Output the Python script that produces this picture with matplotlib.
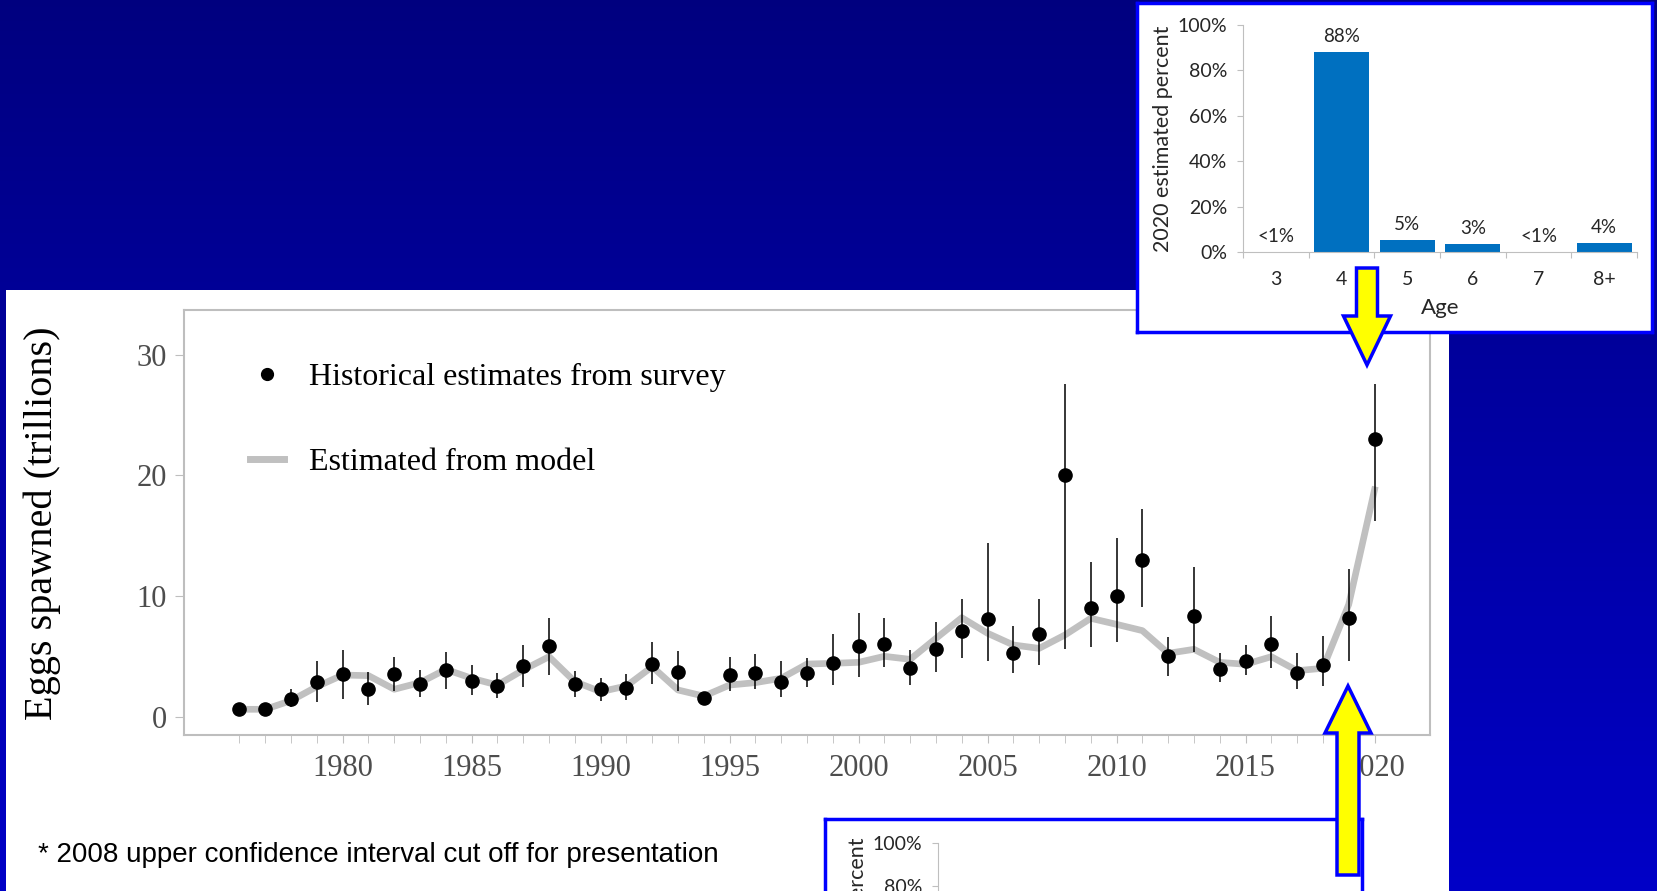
import numpy as np
import matplotlib
matplotlib.use('Agg')
import matplotlib.pyplot as plt
from matplotlib.patches import Rectangle, FancyArrow
from matplotlib.lines import Line2D

# survey egg estimates (trillions) with confidence limits, and model fit
years = np.arange(1976, 2021)
est = np.array([0.66, 0.61, 1.49, 2.90, 3.51, 2.32, 3.51, 2.73, 3.87, 2.98,
                2.57, 4.20, 5.86, 2.73, 2.27, 2.38, 4.34, 3.73, 1.57, 3.45,
                3.59, 2.87, 3.59, 4.48, 5.86, 5.99, 4.06, 5.58, 7.13, 8.12,
                5.25, 6.85, 20.0, 8.98, 9.97, 12.98, 5.00, 8.37, 3.92, 4.59,
                5.99, 3.59, 4.28, 8.20, 22.98])
lo = np.array([0.50, 0.50, 0.80, 1.24, 1.46, 0.99, 2.13, 1.60, 2.27, 1.80,
               1.52, 2.49, 3.45, 1.60, 1.33, 1.41, 2.73, 2.15, 1.35, 2.13,
               2.32, 1.60, 2.49, 2.65, 3.31, 4.14, 2.60, 3.73, 4.89, 4.59,
               3.59, 4.28, 5.58, 5.75, 6.22, 9.06, 3.40, 5.39, 2.87, 3.48,
               4.01, 2.27, 2.54, 4.59, 16.24])
hi = np.array([0.80, 0.75, 2.29, 4.61, 5.52, 3.67, 4.97, 3.84, 5.36, 4.25,
               3.65, 5.91, 8.18, 3.78, 3.20, 3.56, 6.22, 5.47, 1.80, 4.97,
               5.17, 4.61, 4.83, 6.85, 8.56, 8.18, 5.52, 7.85, 9.78, 14.42,
               7.51, 9.72, 27.6, 12.79, 14.78, 17.18, 6.57, 12.43, 5.25, 5.91,
               8.37, 5.30, 6.71, 12.24, 27.6])
model = np.array([0.61, 0.61, 1.33, 2.49, 3.45, 3.40, 2.27, 2.82, 3.92, 3.18,
                  2.62, 3.87, 4.97, 2.90, 2.07, 2.54, 4.14, 2.21, 1.70, 2.62,
                  2.82, 3.18, 4.36, 4.42, 4.50, 5.00, 4.75, 6.49, 8.20, 6.91,
                  5.94, 5.66, 6.77, 8.15, 7.65, 7.13, 5.25, 5.58, 4.50, 4.34,
                  4.97, 3.81, 4.01, 9.30, 18.8])

# 2020 age composition
ages = ['3', '4', '5', '6', '7', '8+']
pct = [0.2, 88.0, 5.4, 3.5, 0.2, 3.8]
pct_labels = ['<1%', '88%', '5%', '3%', '<1%', '4%']

W, H = 1658, 891
fig = plt.figure(figsize=(W / 100, H / 100), dpi=100)


def frac(x0, y0, x1, y1):
    # pixel box (top-left origin) -> figure fraction
    return [x0 / W, 1 - y1 / H, (x1 - x0) / W, (y1 - y0) / H]


# slide background
bg = fig.add_axes([0, 0, 1, 1], zorder=0)
img = np.zeros((256, 1, 3))
img[:, 0, 2] = np.linspace(0.50, 0.78, 256)
bg.imshow(img, extent=(0, W, H, 0), aspect='auto')
bg.set_xlim(0, W)
bg.set_ylim(H, 0)
bg.axis('off')
bg.add_patch(Rectangle((6, 290), 1443, 601, fc='white', ec='none'))

# main chart
serif = 'Liberation Serif'
ax = fig.add_axes(frac(184, 310, 1430, 735), zorder=1)
ax.plot(years, model, color='#C0C0C0', lw=4.8, zorder=2)
ax.errorbar(years, est, yerr=[est - lo, hi - est], fmt='o', color='black',
            ms=9.5, elinewidth=1.1, capsize=0, zorder=3)
ax.set_xlim(1973.85, 2022.15)
ax.set_ylim(-1.52, 33.7)
ax.set_xticks(range(1980, 2021, 5))
ax.set_xticks(years, minor=True)
ax.set_yticks([0, 10, 20, 30])
ax.tick_params(axis='both', which='both', direction='out', color='#BEBEBE',
               labelcolor='#4D4D4D', labelsize=22)
ax.tick_params(axis='x', which='both', length=6, pad=8)
ax.tick_params(axis='y', length=6.5, pad=6)
for lab in ax.get_xticklabels() + ax.get_yticklabels():
    lab.set_family(serif)
for s in ax.spines.values():
    s.set_color('#BEBEBE')
    s.set_linewidth(1.5)

h1 = Line2D([], [], marker='o', ls='none', color='black', ms=8.5)
h2 = Line2D([], [], color='#C0C0C0', lw=5)
ax.legend([h1, h2], ['Historical estimates from survey', 'Estimated from model'],
          loc='upper left', bbox_to_anchor=(0.053, 0.875), frameon=False,
          prop={'family': serif, 'size': 23}, handlelength=1.05,
          handletextpad=0.8, labelspacing=1.72, borderpad=0, borderaxespad=0)

fig.text(42 / W, 1 - 523 / H, 'Eggs spawned (trillions)', rotation=90,
         ha='center', va='center', family=serif, fontsize=29)
fig.text(38 / W, 1 - 855 / H, '* 2008 upper confidence interval cut off for presentation',
         ha='left', va='center', family='Liberation Sans', fontsize=20)

# inset: 2020 age composition
sans = 'Lato'


def inset(box_px, ax_px, ylab, show_x=True):
    box = fig.add_axes(frac(*box_px), zorder=2)
    box.set_xticks([])
    box.set_yticks([])
    for s in box.spines.values():
        s.set_color('#0000FF')
        s.set_linewidth(2.5)
    a = fig.add_axes(frac(*ax_px), zorder=3)
    a.patch.set_alpha(0)
    a.set_xlim(-0.5, 5.5)
    a.set_ylim(0, 100)
    yt = range(0, 101, 20) if show_x else [80, 100]
    a.set_yticks(yt)
    a.set_yticklabels([f'{v}%' for v in yt])
    a.set_xticks(np.arange(-0.5, 6, 1))
    a.set_xticklabels([])
    if show_x:
        a.set_xticks(range(6), minor=True)
        a.set_xticklabels(ages, minor=True)
    a.tick_params(axis='both', which='major', length=4.5, color='#BFBFBF',
                  labelsize=14, labelcolor='#262626')
    a.tick_params(axis='y', pad=7)
    a.tick_params(axis='x', which='minor', length=0, pad=14, labelsize=14,
                  labelcolor='#262626')
    for lab in a.get_xticklabels(minor=True) + a.get_yticklabels():
        lab.set_family(sans)
    a.spines['top'].set_visible(False)
    a.spines['right'].set_visible(False)
    a.spines['left'].set_color('#BFBFBF')
    a.spines['bottom'].set_color('#BFBFBF')
    a.set_ylabel(ylab, family=sans, fontsize=15.5, color='#262626', labelpad=3)
    return a


ins = inset((1137, 3, 1652, 332), (1243, 25, 1637, 252), '2020 estimated percent')
ins.bar(range(6), pct, width=0.84, color='#0070C0')
for i, (v, lab) in enumerate(zip(pct, pct_labels)):
    ins.annotate(lab, (i, v), xytext=(0, 5), textcoords='offset points',
                 ha='center', va='bottom', family=sans, fontsize=13.5,
                 color='#262626')
ins.set_xlabel('Age', family=sans, fontsize=16, color='#262626', labelpad=7)

# second inset, cut off by the slide edge
inset((825, 819, 1362, 1100), (938, 843, 1332, 1058), '2019 estimated percent',
      show_x=False)

# arrows
ov = fig.add_axes([0, 0, 1, 1], zorder=5)
ov.patch.set_alpha(0)
ov.set_xlim(0, W)
ov.set_ylim(H, 0)
ov.axis('off')
ov.add_patch(FancyArrow(1367, 268, 0, 97, width=21, head_width=47, head_length=49,
                        length_includes_head=True, fc='#FFFF00', ec='#0000FF', lw=2.5))
ov.add_patch(FancyArrow(1348, 875, 0, -189, width=22, head_width=46, head_length=47,
                        length_includes_head=True, fc='#FFFF00', ec='#0000FF', lw=2.5))

fig.savefig('out.png', dpi=100)
